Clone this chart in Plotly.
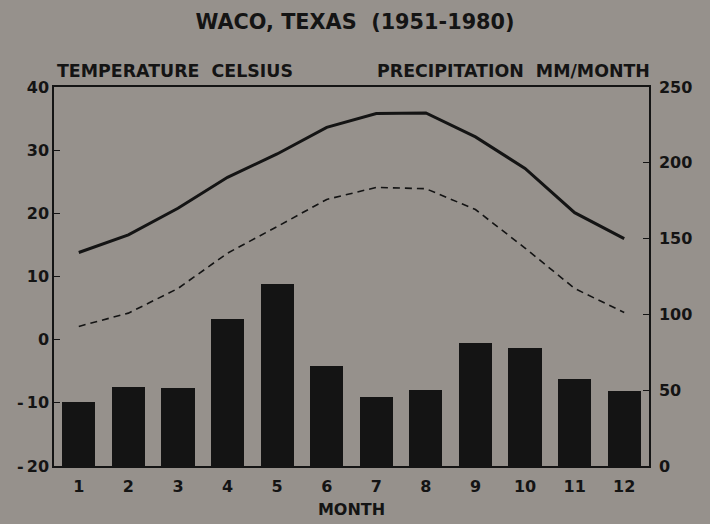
import plotly.graph_objects as go

months = list(range(1, 13))
month_labels = [str(m) for m in months]
precip_mm = [42.4, 52.1, 51.2, 96.8, 120.3, 66.0, 45.7, 49.9, 81.1, 78.0, 57.6, 49.3]
tmax_c = [13.8, 16.6, 20.8, 25.7, 29.4, 33.6, 35.8, 35.9, 32.1, 27.1, 20.1, 16.0]
tmin_c = [2.1, 4.2, 8.1, 13.7, 17.9, 22.2, 24.1, 23.9, 20.6, 14.5, 8.1, 4.3]
left_ticks = [-20, -10, 0, 10, 20, 30, 40]
left_labels = ["-\u200920", "-\u200910", "0", "10", "20", "30", "40"]
right_ticks = [0, 50, 100, 150, 200, 250]

bg = "#96918c"
ink = "#141414"
font = dict(family="DejaVu Sans, Arial, sans-serif", size=16, color=ink, weight="bold")

fig = go.Figure()
fig.add_trace(go.Bar(x=months, y=precip_mm, yaxis="y2", width=0.67,
                     marker=dict(color=ink, line=dict(width=0)), showlegend=False))
fig.add_trace(go.Scatter(x=months, y=tmax_c, mode="lines",
                         line=dict(color=ink, width=3), showlegend=False))
fig.add_trace(go.Scatter(x=months, y=tmin_c, mode="lines",
                         line=dict(color=ink, width=1.6, dash="7px,5px"), showlegend=False))

fig.update_layout(
    width=710, height=524,
    paper_bgcolor=bg, plot_bgcolor=bg,
    margin=dict(l=54, r=61, t=87, b=58, autoexpand=False),
    font=font,
    bargap=0,
    xaxis=dict(range=[0.5, 12.5], tickvals=months, ticktext=month_labels,
               showline=True, linecolor=ink, linewidth=1.5, mirror=True,
               ticks="", showgrid=False, zeroline=False, automargin=False,
               tickfont=dict(size=16), ticklabelstandoff=5,
               title=dict(text="MONTH", font=dict(size=16), standoff=9)),
    yaxis=dict(range=[-20, 40], tickvals=left_ticks, ticktext=left_labels,
               showline=True, linecolor=ink, linewidth=1.5, automargin=False,
               ticks="inside", ticklen=6, tickwidth=1.2, tickcolor=ink,
               showgrid=False, zeroline=False, tickfont=dict(size=16)),
    yaxis2=dict(range=[0, 250], tickvals=right_ticks, overlaying="y", side="right",
                showline=True, linecolor=ink, linewidth=1.5, automargin=False,
                ticks="inside", ticklen=6, tickwidth=1.2, tickcolor=ink,
                showgrid=False, zeroline=False, tickfont=dict(size=16),
                ticklabelstandoff=5),
    title=dict(text="WACO, TEXAS  (1951-1980)", x=0.5, xanchor="center",
               y=1 - 22 / 524, yanchor="middle", font=dict(size=20.8)),
    annotations=[
        dict(text="TEMPERATURE  CELSIUS", xref="paper", yref="paper",
             x=1 / 595, y=1 + 16 / 379, xanchor="left", yanchor="middle",
             showarrow=False, font=dict(size=17.4)),
        dict(text="PRECIPITATION  MM/MONTH", xref="paper", yref="paper",
             x=1 + 3 / 595, y=1 + 16 / 379, xanchor="right", yanchor="middle",
             showarrow=False, font=dict(size=17.4)),
    ],
)

fig.write_html("out.html")
